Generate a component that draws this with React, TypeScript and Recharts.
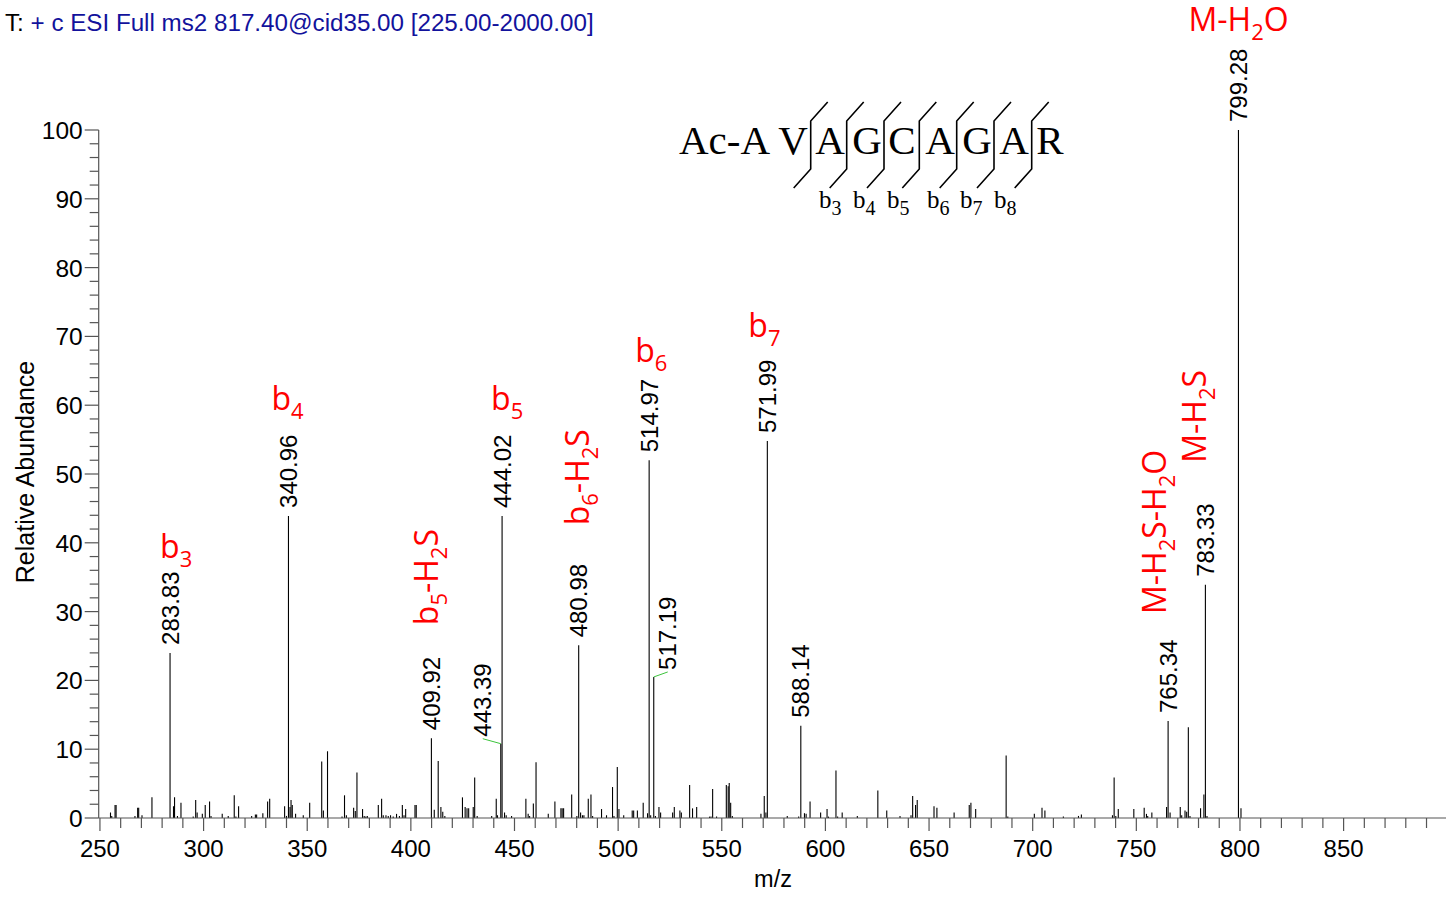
import React from 'react';
import { BarChart, Bar, XAxis, YAxis } from 'recharts';

// ---------- data ----------
const mzValues = [
  255.1, 255.7, 257.3, 257.8, 266.9, 268.2, 268.7, 270.3, 275.1, 283.83,
  285.5, 286.0, 287.4, 289.1, 295.0, 296.2, 296.9, 299.4, 300.8, 302.9,
  303.6, 309.0, 311.9, 314.8, 315.6, 316.9, 323.2, 325.0, 325.6, 328.6,
  330.9, 331.9, 339.1, 340.0, 340.96, 341.7, 342.2, 342.8, 344.4, 348.1,
  351.2, 357.0, 357.8, 359.8, 366.8, 368.0, 368.9, 372.4, 373.2, 374.0,
  376.7, 377.5, 378.3, 379.0, 384.3, 385.9, 386.7, 388.0, 389.1, 390.2,
  391.5, 393.1, 394.5, 395.9, 396.7, 397.5, 402.0, 402.6, 409.92, 411.3,
  413.2, 414.5, 415.4, 416.4, 424.9, 426.2, 427.1, 427.9, 430.1, 430.8,
  432.0, 439.0, 441.2, 441.8, 443.39, 444.02, 445.2, 446.0, 448.6, 455.5,
  456.6, 457.3, 459.1, 460.4, 466.3, 469.5, 472.4, 473.0, 473.7, 477.6,
  480.1, 480.98, 481.9, 482.8, 483.5, 485.6, 486.9, 487.7, 492.0, 494.4,
  497.3, 498.0, 499.6, 500.4, 502.7, 506.8, 507.5, 509.3, 512.1, 514.2,
  514.97, 515.7, 517.19, 518.0, 519.7, 520.5, 526.3, 527.1, 529.8, 530.5,
  534.5, 535.9, 537.9, 544.1, 544.8, 545.6, 547.5, 552.2, 553.1, 553.6,
  554.3, 555.1, 568.9, 570.5, 571.3, 571.99, 581.6, 587.1, 588.14, 589.9,
  590.7, 592.6, 597.7, 600.8, 601.5, 605.1, 605.9, 608.1, 615.4, 625.3,
  629.6, 636.0, 641.3, 642.1, 643.5, 644.3, 652.4, 653.8, 662.1, 669.4,
  670.2, 672.5, 687.2, 688.0, 700.8, 704.5, 705.9, 714.8, 722.1, 723.5,
  738.5, 739.3, 740.1, 741.3, 748.8, 753.8, 754.9, 755.5, 757.5, 764.6,
  765.34, 766.3, 771.2, 771.9, 773.5, 774.3, 775.1, 775.9, 781.0, 782.6,
  783.33, 784.1, 799.28, 800.5,
];

const intensities = [
  0.8, 0.3, 1.9, 1.9, 0.3, 1.5, 1.5, 0.4, 3.0, 24.0,
  1.7, 3.0, 0.3, 2.2, 0.2, 2.6, 0.8, 0.6, 1.9, 2.4,
  0.3, 0.6, 0.3, 3.3, 0.2, 1.7, 0.3, 0.5, 0.5, 0.7,
  2.4, 2.8, 1.7, 0.3, 43.9, 1.6, 2.6, 1.9, 0.6, 0.4,
  2.2, 8.2, 1.1, 9.7, 0.2, 3.3, 0.4, 1.5, 1.0, 6.6,
  1.3, 0.3, 0.2, 0.3, 1.9, 2.8, 0.4, 0.4, 0.3, 0.4,
  0.2, 0.6, 0.3, 1.9, 0.4, 1.3, 1.9, 1.9, 11.6, 1.2,
  8.3, 1.6, 0.9, 0.3, 3.0, 1.6, 1.4, 1.4, 1.6, 5.9,
  0.3, 0.3, 2.8, 0.4, 10.8, 43.9, 0.8, 0.4, 0.3, 2.8,
  0.6, 0.3, 2.1, 8.1, 0.6, 2.4, 1.4, 1.4, 1.4, 3.4,
  0.3, 25.1, 0.8, 0.4, 0.4, 2.8, 3.4, 0.3, 1.3, 0.4,
  4.5, 0.3, 7.4, 1.3, 0.4, 1.1, 1.1, 1.1, 2.2, 0.7,
  52.0, 0.4, 20.5, 0.3, 1.6, 0.8, 0.8, 1.6, 1.1, 0.8,
  4.8, 1.4, 1.6, 0.2, 0.2, 4.2, 0.2, 4.8, 4.6, 5.1,
  2.2, 0.3, 0.6, 3.2, 0.8, 54.8, 0.3, 0.2, 13.4, 0.7,
  0.6, 2.4, 0.8, 1.3, 0.2, 6.9, 0.2, 0.8, 0.3, 4.0,
  1.1, 0.3, 0.4, 3.2, 1.9, 2.6, 1.7, 1.5, 0.8, 1.9,
  2.2, 1.3, 9.1, 0.2, 0.6, 1.5, 1.1, 0.2, 0.3, 0.5,
  0.4, 5.9, 0.3, 1.3, 1.3, 1.5, 0.6, 0.3, 0.8, 1.6,
  14.1, 0.8, 1.6, 0.4, 1.1, 0.9, 13.2, 0.3, 1.4, 3.4,
  33.9, 0.3, 100, 1.4,
];

// peaks carrying an m/z label
const labeledPeaks = [283.83, 340.96, 409.92, 443.39, 444.02, 480.98, 514.97, 517.19, 571.99, 588.14, 765.34, 783.33, 799.28];

// fragment-ion annotations ("_" marks a one-character subscript)
const ionAnchors = [283.83, 340.96, 409.92, 444.02, 480.98, 514.97, 571.99, 765.34, 783.33, 799.28];
const ionTexts = ['b_3', 'b_4', 'b_5-H_2S', 'b_5', 'b_6-H_2S', 'b_6', 'b_7', 'M-H_2S-H_2O', 'M-H_2S', 'M-H_2O'];

const xTicks = [250, 260, 270, 280, 290, 300, 310, 320, 330, 340, 350, 360, 370, 380, 390, 400, 410, 420, 430, 440, 450, 460, 470, 480, 490, 500, 510, 520, 530, 540, 550, 560, 570, 580, 590, 600, 610, 620, 630, 640, 650, 660, 670, 680, 690, 700, 710, 720, 730, 740, 750, 760, 770, 780, 790, 800, 810, 820, 830, 840, 850, 860, 870, 880, 890];
const yTicks = [0, 2, 4, 6, 8, 10, 12, 14, 16, 18, 20, 22, 24, 26, 28, 30, 32, 34, 36, 38, 40, 42, 44, 46, 48, 50, 52, 54, 56, 58, 60, 62, 64, 66, 68, 70, 72, 74, 76, 78, 80, 82, 84, 86, 88, 90, 92, 94, 96, 98, 100];

const peptideResidues = ['V', 'A', 'G', 'C', 'A', 'G', 'A', 'R'];
const fragmentNames = ['3', '4', '5', '6', '7', '8'];

const peaks = mzValues.map((mz, i) => ({ mz, intensity: intensities[i] }));

// ---------- styles ----------
const SANS = '"Liberation Sans", Arial, Helvetica, sans-serif';
const RED_FONT = '"Open Sans", "Noto Sans", sans-serif';
const SERIF = '"Liberation Serif", "Times New Roman", serif';
const AXIS = '#555';
const RED = '#ff0000';

// label offsets (px) relative to peak top / centre
const MZ_LABEL_SHIFT: Record<string, number> = { '443.39': -18, '517.19': 14 };
const ION_PLACE: Record<string, { dx: number; dy: number; rot: boolean }> = {
  'b_3': { dx: -10, dy: -95, rot: false },
  'b_4': { dx: -17, dy: -106, rot: false },
  'b_5': { dx: -11, dy: -106, rot: false },
  'b_6': { dx: -14, dy: -98, rot: false },
  'b_7': { dx: -19, dy: -104, rot: false },
  'M-H_2O': { dx: -50, dy: -99, rot: false },
  'b_5-H_2S': { dx: 6.6, dy: -113, rot: true },
  'b_6-H_2S': { dx: 10.4, dy: -120, rot: true },
  'M-H_2S-H_2O': { dx: -2, dy: -107, rot: true },
  'M-H_2S': { dx: 0.6, dy: -122, rot: true },
};

const richText = (t: string, big: number, small: number, shift: number) => {
  const out: React.ReactNode[] = [];
  let sub = false;
  let i = 0;
  let k = 0;
  while (i < t.length) {
    if (t[i] === '_') {
      out.push(
        <tspan key={k++} fontSize={small} dy={sub ? 0 : shift}>{t[i + 1]}</tspan>
      );
      sub = true;
      i += 2;
    } else {
      let j = i;
      while (j < t.length && t[j] !== '_') j++;
      out.push(
        <tspan key={k++} fontSize={big} dy={sub ? -shift : 0}>{t.slice(i, j)}</tspan>
      );
      sub = false;
      i = j;
    }
  }
  return out;
};

const PeakShape = (props: any) => {
  const { x, y, width, height, index } = props;
  const p = props.payload && props.payload.mz !== undefined ? props.payload : peaks[index];
  if (x == null || y == null || isNaN(x) || isNaN(y)) return null;
  const cx = x + width / 2;
  const top = y;
  const bottom = y + height;
  const key = p.mz.toFixed(2);
  const hasLabel = labeledPeaks.includes(p.mz);
  const shift = MZ_LABEL_SHIFT[key] ?? 0;
  const ionIdx = ionAnchors.indexOf(p.mz);
  let ion: React.ReactNode = null;
  if (ionIdx >= 0) {
    const txt = ionTexts[ionIdx];
    const pl = ION_PLACE[txt];
    const ax = cx + pl.dx;
    const ay = top + pl.dy;
    ion = (
      <text
        x={ax}
        y={ay}
        fill={RED}
        fontFamily={RED_FONT}
        fontSize={32}
        transform={pl.rot ? `rotate(-90 ${ax} ${ay})` : undefined}
      >
        {richText(txt, 32, 22, 9)}
      </text>
    );
  }
  const lx = cx + shift + 8.6;
  const ly = top - (shift !== 0 ? 7 : 8);
  return (
    <g>
      <line x1={cx} x2={cx} y1={top} y2={bottom} stroke="#000" strokeWidth={1.1} />
      {hasLabel && shift !== 0 && (
        <line x1={cx} y1={top} x2={cx + shift} y2={top - 5} stroke="#3cc43c" strokeWidth={1} />
      )}
      {hasLabel && (
        <text
          x={lx}
          y={ly}
          fontFamily={SANS}
          fontSize={24}
          fill="#000"
          transform={`rotate(-90 ${lx} ${ly})`}
        >
          {key}
        </text>
      )}
      {ion}
    </g>
  );
};

const XTick = (props: any) => {
  const { x, y, payload } = props;
  const v = payload.value;
  const major = v % 50 === 0;
  return (
    <g>
      <line x1={x} x2={x} y1={y} y2={y + (major ? 13 : 10)} stroke={AXIS} strokeWidth={1.2} />
      {major && (
        <text x={x} y={y + 39} textAnchor="middle" fontFamily={SANS} fontSize={24} fill="#000">
          {v}
        </text>
      )}
    </g>
  );
};

const YTick = (props: any) => {
  const { x, y, payload } = props;
  const v = payload.value;
  const major = v % 10 === 0;
  return (
    <g>
      <line x1={x - (major ? 14 : 9)} x2={x} y1={y} y2={y} stroke={AXIS} strokeWidth={1.2} />
      {major && (
        <text x={x - 16} y={y + 9} textAnchor="end" fontFamily={SANS} fontSize={24.5} fill="#000">
          {v}
        </text>
      )}
    </g>
  );
};

const Peptide = () => {
  const letterX = [793, 830, 867, 902, 940, 977, 1014, 1050];
  const markX = [810.7, 846.7, 884, 919.3, 956.7, 994, 1031.7];
  const subX = [819, 853, 887, 927, 960, 994];
  return (
    <g>
      <text x={679} y={154} fontFamily={SERIF} fontSize={41} fill="#000">Ac-A</text>
      {peptideResidues.map((r, i) => (
        <text key={i} x={letterX[i]} y={154} textAnchor="middle" fontFamily={SERIF} fontSize={41} fill="#000">
          {r}
        </text>
      ))}
      {markX.map((mx, i) => (
        <polyline
          key={i}
          points={`${mx + 17},${102} ${mx},${121} ${mx},${169} ${mx - 17},${188}`}
          fill="none"
          stroke="#000"
          strokeWidth={1.6}
        />
      ))}
      {fragmentNames.map((n, i) => (
        <text key={i} x={subX[i]} y={208} fontFamily={SERIF} fontSize={25} fill="#000">
          b<tspan fontSize={20} dy={7}>{n}</tspan>
        </text>
      ))}
    </g>
  );
};

export default function App() {
  return (
    <div style={{ position: 'absolute', left: 0, top: 0, width: 1456, height: 897, background: '#fff' }}>
      <BarChart
        width={1456}
        height={897}
        data={peaks}
        margin={{ top: 130, right: 10, bottom: 49, left: 38.7 }}
        barCategoryGap={0}
      >
        <XAxis
          type="number"
          dataKey="mz"
          domain={[249.4, 899.4]}
          ticks={xTicks}
          interval={0}
          tick={<XTick />}
          tickLine={false}
          tickSize={0}
          tickMargin={0}
          height={30}
          axisLine={{ stroke: AXIS, strokeWidth: 1.2 }}
          allowDataOverflow
        />
        <YAxis
          type="number"
          domain={[0, 100]}
          ticks={yTicks}
          interval={0}
          tick={<YTick />}
          tickLine={false}
          tickSize={0}
          tickMargin={0}
          width={60}
          axisLine={{ stroke: AXIS, strokeWidth: 1.2 }}
        />
        <Bar dataKey="intensity" barSize={1} isAnimationActive={false} shape={(p: any) => <PeakShape {...p} />} />
      </BarChart>
      <svg
        width={1456}
        height={897}
        style={{ position: 'absolute', left: 0, top: 0, pointerEvents: 'none' }}
      >
        <text x={5} y={31} fontFamily={SANS} fontSize={24.2}>
          <tspan fill="#000">T:</tspan>
          <tspan fill="#12129c"> + c ESI Full ms2 817.40@cid35.00 [225.00-2000.00]</tspan>
        </text>
        <text
          x={34}
          y={472}
          textAnchor="middle"
          fontFamily={SANS}
          fontSize={25}
          fill="#000"
          transform="rotate(-90 34 472)"
        >
          Relative Abundance
        </text>
        <text x={773} y={887} textAnchor="middle" fontFamily={SANS} fontSize={23.5} fill="#000">
          m/z
        </text>
        <Peptide />
      </svg>
    </div>
  );
}
